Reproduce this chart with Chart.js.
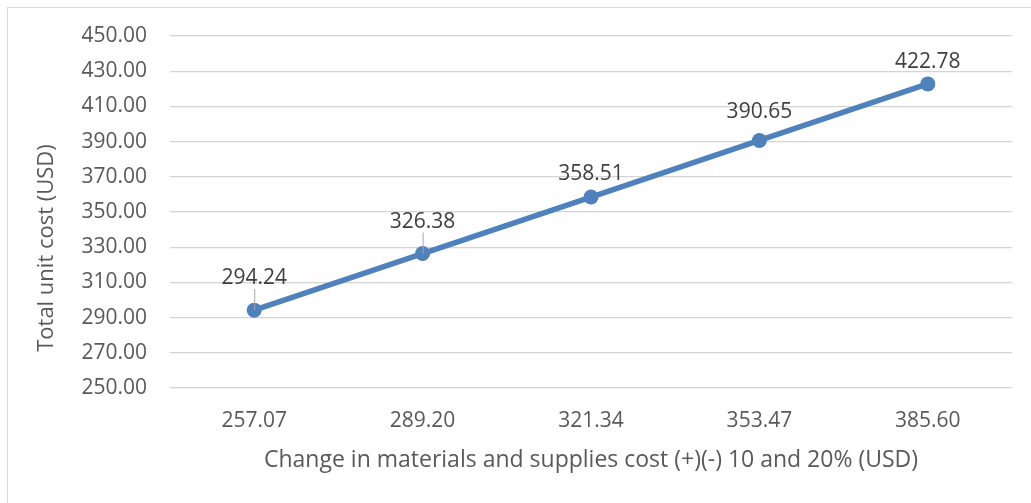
<!DOCTYPE html>
<html lang="en">
<head>
  <meta charset="UTF-8" />
  <title>Total unit cost vs materials and supplies cost</title>
  <script src="https://cdn.jsdelivr.net/npm/chart.js"></script>
  <style>
    html, body {
        margin: 0;
        padding: 0;
        background: #ffffff;
    }
    .frame {
        position: absolute;
        left: 7px;
        top: 7px;
        right: 0;
        bottom: 0;
        border-top: 1px solid #d9d9d9;
        border-left: 1px solid #d9d9d9;
    }
    .chart-box {
        position: absolute;
        left: 0;
        top: 0;
        width: 1031px;
        height: 503px;
    }
  </style>
</head>

<body>
  <div class="frame"></div>
  <div class="chart-box"><canvas id="costChart" width="1031" height="503"></canvas></div>

  <script>
    // x categories: materials and supplies cost after the -20%..+20% changes
    const materialCosts = ['257.07', '289.20', '321.34', '353.47', '385.60'];
    // resulting total unit cost
    const totalUnitCost = [294.24, 326.38, 358.51, 390.65, 422.78];
    // y axis range
    const yMin = 250;
    const yMax = 450;
    const yStep = 20;

    // how far each value label sits above its point, and whether it gets a leader line
    const labelLift = [32, 32, 23, 28, 22];
    const labelLeader = [true, true, false, false, false];

    const FONT = "'Open Sans', 'DejaVu Sans', sans-serif";
    const TEXT = '#595959';

    const valueLabels = {
      id: 'valueLabels',
      afterDatasetsDraw(chart) {
        const ctx = chart.ctx;
        const meta = chart.getDatasetMeta(0);
        ctx.save();
        meta.data.forEach((pt, i) => {
          const ly = pt.y - labelLift[i];
          if (labelLeader[i]) {
            ctx.strokeStyle = '#a6a6a6';
            ctx.lineWidth = 1;
            ctx.beginPath();
            ctx.moveTo(pt.x + 0.5, ly + 11);
            ctx.lineTo(pt.x + 0.5, pt.y);
            ctx.stroke();
          }
          ctx.font = '21px ' + FONT;
          ctx.fillStyle = '#404040';
          ctx.textAlign = 'center';
          ctx.textBaseline = 'middle';
          ctx.fillText(totalUnitCost[i].toFixed(2), pt.x, ly);
        });
        ctx.restore();
      }
    };

    // y title sits a little below the middle of the plot, as in the workbook
    const yTitle = {
      id: 'yTitle',
      afterDraw(chart) {
        const ctx = chart.ctx;
        ctx.save();
        ctx.translate(47, 248);
        ctx.rotate(-Math.PI / 2);
        ctx.font = '22px ' + FONT;
        ctx.fillStyle = TEXT;
        ctx.textAlign = 'center';
        ctx.textBaseline = 'middle';
        ctx.fillText('Total unit cost (USD)', 0, 0);
        ctx.restore();
      }
    };

    const ctx = document.getElementById('costChart').getContext('2d');
    new Chart(ctx, {
      type: 'line',
      data: {
        labels: materialCosts,
        datasets: [{
          data: totalUnitCost,
          borderColor: '#4f81bd',
          backgroundColor: '#4f81bd',
          borderWidth: 5.5,
          pointRadius: 7.5,
          pointBorderWidth: 0,
          tension: 0
        }]
      },
      options: {
        responsive: false,
        animation: false,
        layout: {
          padding: { top: 36, right: 19, left: 0, bottom: 0 }
        },
        plugins: {
          legend: { display: false },
          tooltip: { enabled: false }
        },
        scales: {
          x: {
            offset: true,
            grid: { display: false, drawTicks: false },
            border: { display: false },
            ticks: {
              color: TEXT,
              padding: 20,
              font: { size: 21, family: FONT }
            },
            title: {
              display: true,
              text: 'Change in materials and supplies cost (+)(-) 10 and 20% (USD)',
              color: TEXT,
              font: { size: 23, family: FONT },
              padding: { bottom: 29 }
            },
            afterFit(scale) { scale.height = 503 - 388; }
          },
          y: {
            min: yMin,
            max: yMax,
            grid: { color: '#d4d4d4', lineWidth: 1.3, drawTicks: false },
            border: { display: false },
            ticks: {
              stepSize: yStep,
              color: TEXT,
              padding: 23,
              font: { size: 21, family: FONT },
              callback: v => v.toFixed(2)
            },
            afterFit(scale) { scale.width = 170; }
          }
        }
      },
      plugins: [valueLabels, yTitle]
    });
  </script>
</body>
</html>
